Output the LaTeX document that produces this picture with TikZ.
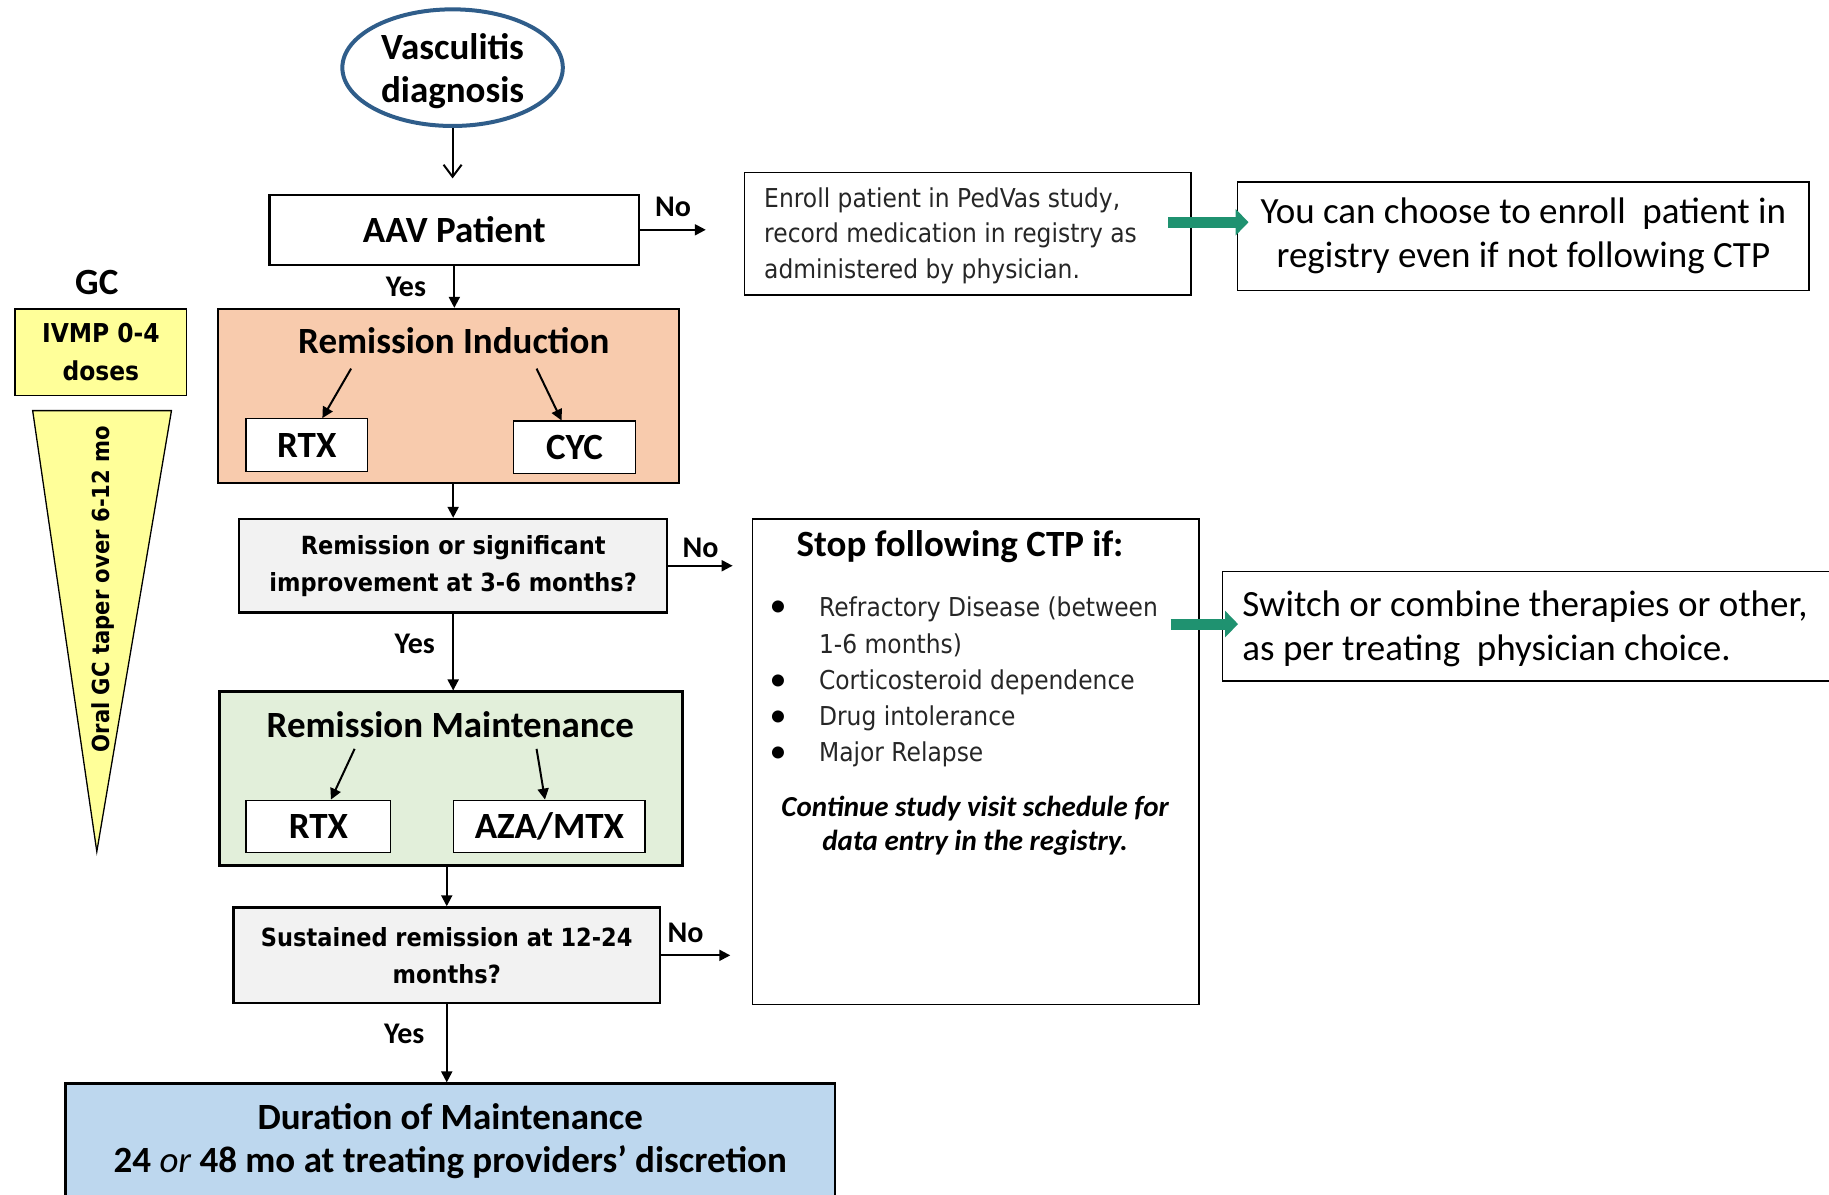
\documentclass[tikz,border=0pt]{standalone}
\usepackage{fontspec}
\setmainfont{Carlito}
\newfontfamily\tahoma[FakeStretch=0.9]{DejaVu Sans}
\usetikzlibrary{shapes.geometric, arrows.meta, calc}

\definecolor{peach}{HTML}{F8CBAD}
\definecolor{mint}{HTML}{E2EFDA}
\definecolor{qgray}{HTML}{F2F2F2}
\definecolor{skyblue}{HTML}{BDD7EE}
\definecolor{gcyellow}{HTML}{FFFF99}
\definecolor{navyline}{HTML}{2F5D8A}
\definecolor{tealarrow}{HTML}{1F9270}

\newcommand\pxu{1.1665pt}
\newcommand\ctpTitle{\fontsize{37}{43}\selectfont\bfseries}
\newcommand\ctpLabel{\fontsize{30}{36}\selectfont\bfseries}
\newcommand\ctpQ{\tahoma\fontsize{25}{37}\selectfont\bfseries}
\newcommand\ctpNote{\tahoma\fontsize{26}{35.5}\selectfont}
\newcommand\ctpSide{\fontsize{37}{44}\selectfont}
\newcommand\ctpStop{\fontsize{37}{43}\selectfont\bfseries}
\newcommand\ctpCont{\fontsize{29}{34}\selectfont\bfseries\itshape}

\begin{document}
\begin{tikzpicture}[x=1.1665pt, y=-1.1665pt,
    box/.style={draw, line width=2.5pt, inner sep=0pt, align=center},
    thinbox/.style={draw, line width=1.3pt, inner sep=0pt, align=center, fill=white},
    tip/.style={-{Triangle[length=11pt,width=11pt]}, line width=2pt},
    greenarr/.style={draw=tealarrow, line width=11pt, -{Triangle[length=13pt,width=26pt]}}]

    \useasboundingbox (0,0) rectangle (1568,1024);

    % main column
    \node[box, ellipse, draw=navyline, line width=4pt, minimum width=189*\pxu, minimum height=100*\pxu] (diag) at (388,58) {};
    \node[font=\ctpTitle, align=center] (diagtext) at (388,61) {Vasculitis\\diagnosis};
    \node[box, minimum width=317*\pxu, minimum height=60*\pxu, font=\ctpTitle] (aav) at (389.5,197) {AAV Patient};

    \node[box, fill=peach, minimum width=395*\pxu, minimum height=149*\pxu] (ind) at (384.5,339.5) {};
    \node[font=\ctpTitle] (indtitle) at (389,292) {Remission Induction};
    \node[thinbox, minimum width=104*\pxu, minimum height=45*\pxu, font=\ctpTitle] (rtxA) at (263,381.5) {RTX};
    \node[thinbox, minimum width=105*\pxu, minimum height=45*\pxu, font=\ctpTitle] (cycA) at (492.5,383.5) {CYC};
    \coordinate (indL) at (301,316);
    \coordinate (indR) at (460,316);

    \node[box, fill=qgray, minimum width=367*\pxu, minimum height=80*\pxu, font=\ctpQ] (q1) at (388.5,485) {Remission or significant\\improvement at 3-6 months?};

    \node[box, fill=mint, minimum width=397*\pxu, minimum height=149*\pxu] (maint) at (386.5,667.5) {};
    \node[font=\ctpTitle] (mtitle) at (386,621) {Remission Maintenance};
    \node[thinbox, minimum width=124*\pxu, minimum height=45*\pxu, font=\ctpTitle] (rtxB) at (273,708.5) {RTX};
    \node[thinbox, minimum width=164*\pxu, minimum height=45*\pxu, font=\ctpTitle] (aza) at (471,708.5) {AZA/MTX};
    \coordinate (mL) at (304,642);
    \coordinate (mR) at (460,642);

    \node[box, fill=qgray, minimum width=366*\pxu, minimum height=82*\pxu, font=\ctpQ] (q2) at (383,819) {Sustained remission at 12-24\\months?};

    \node[box, fill=skyblue, minimum width=660*\pxu, minimum height=110*\pxu] (dur) at (386,984) {};
    \node[font=\ctpTitle, align=center] (durtext) at (386,978) {Duration of Maintenance\\24 {\mdseries\itshape or} 48 mo at treating providers’ discretion};

    % GC column
    \node[font=\ctpTitle] (gc) at (83,242) {GC};
    \node[draw, line width=1.5pt, fill=gcyellow, minimum width=147*\pxu, minimum height=74*\pxu, align=center, font=\tahoma\fontsize{26}{38}\selectfont\bfseries] (ivmp) at (86.5,302) {IVMP 0-4\\doses};
    \draw[line width=1.3pt, fill=gcyellow] (28,352) -- (147,352) -- (83,730) -- cycle;
    \node[rotate=90, font=\tahoma\fontsize{23.5}{28}\selectfont\bfseries] (taper) at (88,505) {Oral GC taper over 6-12 mo};

    % right side
    \node[draw, line width=1.3pt, minimum width=383*\pxu, minimum height=105*\pxu] (enroll) at (829.5,200.5) {};
    \node[anchor=west, inner sep=0pt, align=left, font=\ctpNote, text=black!85] (enrolltext) at (655,202) {Enroll patient in PedVas study,\\record medication in registry as\\administered by physician.};
    \node[draw, line width=1.5pt, minimum width=490*\pxu, minimum height=93*\pxu, align=center, font=\ctpSide] (choose) at (1306,202.5) {You can choose to enroll\ \ patient in\\registry even if not following CTP};

    \node[draw, line width=1.3pt, minimum width=383*\pxu, minimum height=416*\pxu] (stop) at (836.5,653) {};
    \node[font=\ctpStop] (stoptitle) at (823,469) {Stop following CTP if:};
    \foreach \y in {522,585,616,647}
        \node[font=\fontsize{34}{34}\selectfont] at (667,\y) {•};
    \node[anchor=west, inner sep=0pt, font=\ctpNote, text=black!85] (s1) at (702,522) {Refractory Disease (between};
    \node[anchor=west, inner sep=0pt, font=\ctpNote, text=black!85] (s2) at (702,553) {1-6 months)};
    \node[anchor=west, inner sep=0pt, font=\ctpNote, text=black!85] (s3) at (702,585) {Corticosteroid dependence};
    \node[anchor=west, inner sep=0pt, font=\ctpNote, text=black!85] (s4) at (702,616) {Drug intolerance};
    \node[anchor=west, inner sep=0pt, font=\ctpNote, text=black!85] (s5) at (702,647) {Major Relapse};
    \node[font=\ctpCont, align=center] (cont) at (836,708) {Continue study visit schedule for\\data entry in the registry.};

    \node[draw, line width=1.5pt, minimum width=527*\pxu, minimum height=94*\pxu] (switch) at (1311.5,537) {};
    \node[anchor=west, inner sep=0pt, align=left, font=\ctpSide] (switchtext) at (1065,539) {Switch or combine therapies or other,\\as per treating\ \ physician choice.};

    % connectors
    \draw[-{Straight Barb[length=12pt,width=18pt]}, line width=2pt] (diag.south) -- ($(diag.south |- aav.north)+(0,-13)$);
    \draw[tip] (aav.south) -- (aav.south |- ind.north) node[pos=0.5, left=24pt, font=\ctpLabel] {Yes};
    \draw[tip] (aav.east) -- ++(56,0) node[pos=0.5, above=9pt, font=\ctpLabel] {No};
    \draw[tip] (indL) -- (rtxA);
    \draw[tip] (indR) -- (cycA);
    \draw[tip] (q1.north |- ind.south) -- (q1.north);
    \draw[tip] (q1.east) -- ++(55,0) node[pos=0.5, above=4pt, font=\ctpLabel] {No};
    \draw[tip] (q1.south) -- (q1.south |- maint.north) node[pos=0.4, left=14pt, font=\ctpLabel] {Yes};
    \draw[tip] (mL) -- (rtxB);
    \draw[tip] (mR) -- (aza);
    \draw[tip] (q2.north |- maint.south) -- (q2.north);
    \draw[tip] (q2.east) -- ++(59,0) node[pos=0.35, above=8pt, font=\ctpLabel] {No};
    \draw[tip] (q2.south) -- (q2.south |- dur.north) node[pos=0.38, left=18pt, font=\ctpLabel] {Yes};

    \draw[greenarr] ([shift={(-20,-10)}]enroll.east) -- ([shift={(10,-12)}]choose.west);
    \draw[greenarr] ([shift={(-25,-118)}]stop.east) -- ([shift={(14,-2)}]switch.west);

\end{tikzpicture}
\end{document}
